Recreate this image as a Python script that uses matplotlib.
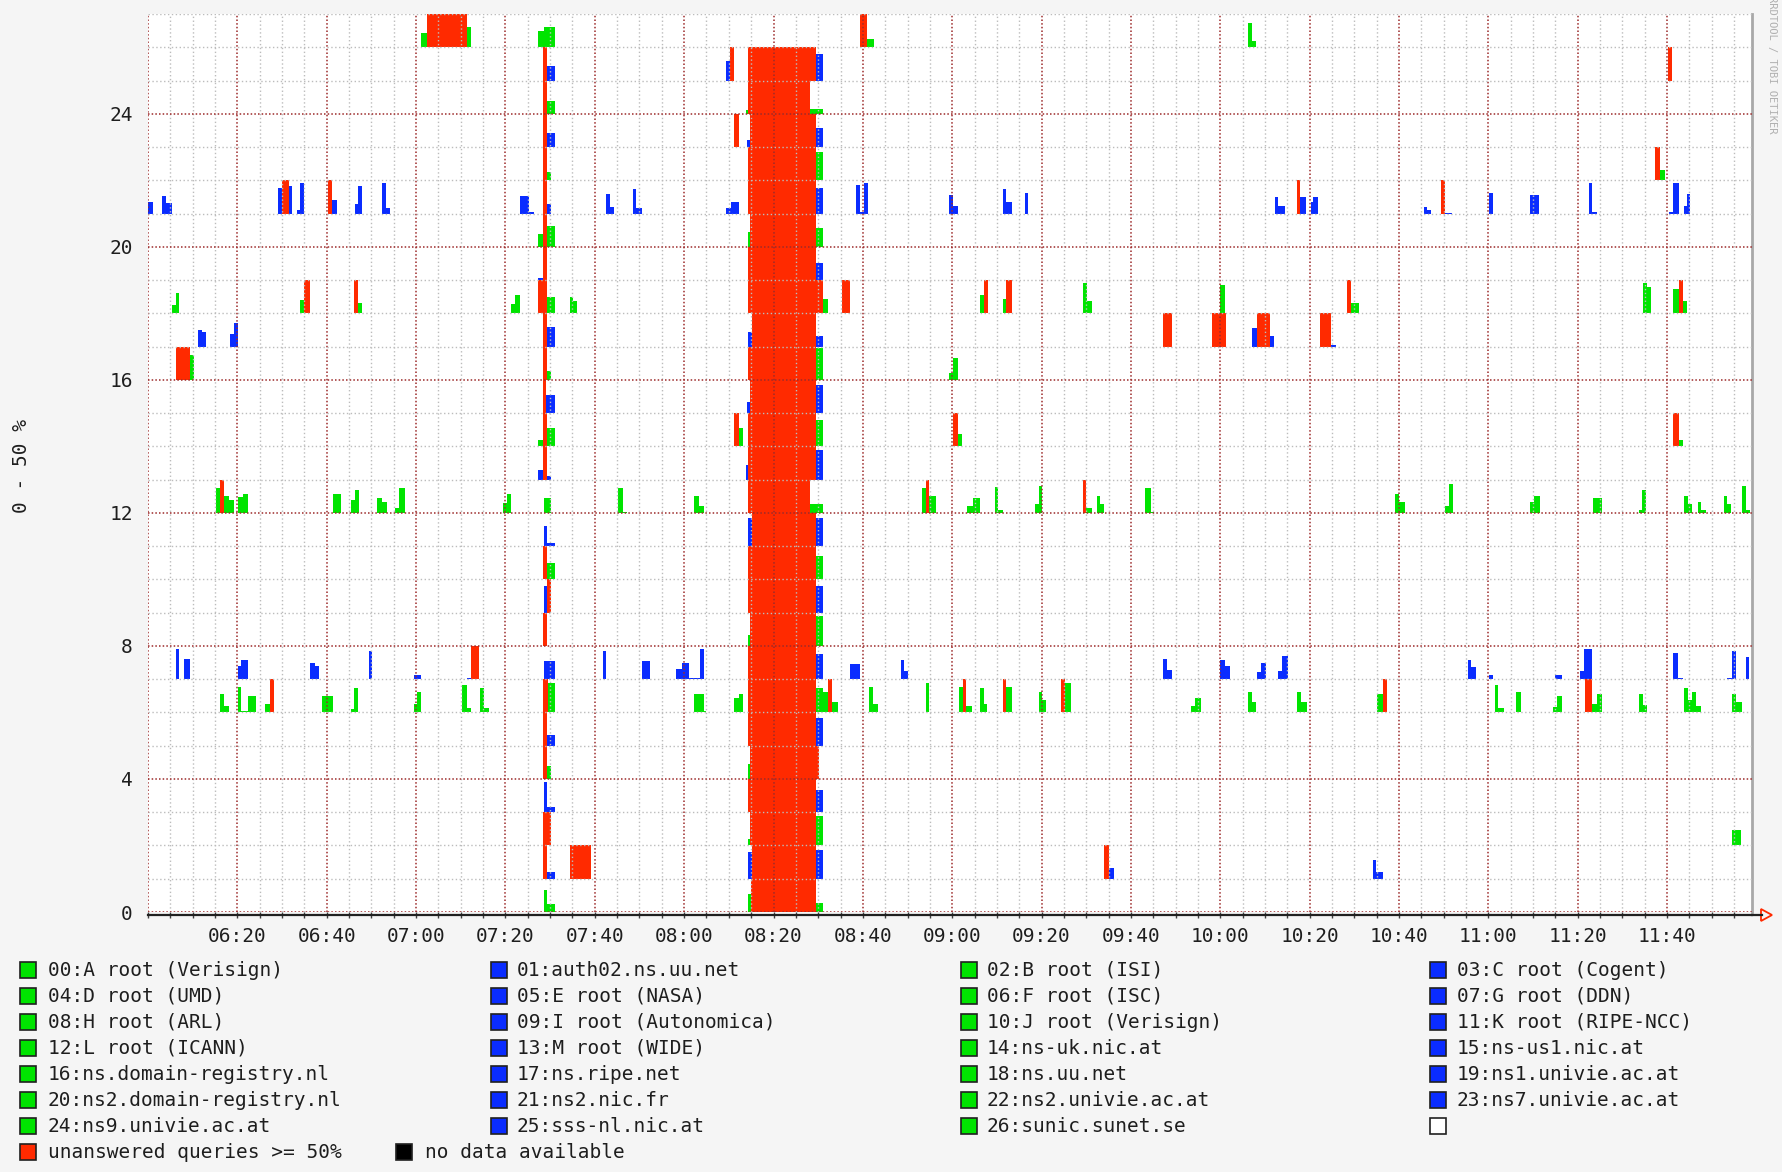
import matplotlib
matplotlib.use("Agg")
import matplotlib.pyplot as plt
from matplotlib.patches import Rectangle, Polygon
from matplotlib.lines import Line2D

# --- chart data ------------------------------------------------------------
t_start = "06:00"
t_end = "11:59"
time_labels = ["06:20", "06:40", "07:00", "07:20", "07:40", "08:00", "08:20",
               "08:40", "09:00", "09:20", "09:40", "10:00", "10:20", "10:40",
               "11:00", "11:20", "11:40"]
y_labels = [0, 4, 8, 12, 16, 20, 24]

servers = [
    "00:A root (Verisign)", "01:auth02.ns.uu.net", "02:B root (ISI)", "03:C root (Cogent)",
    "04:D root (UMD)", "05:E root (NASA)", "06:F root (ISC)", "07:G root (DDN)",
    "08:H root (ARL)", "09:I root (Autonomica)", "10:J root (Verisign)", "11:K root (RIPE-NCC)",
    "12:L root (ICANN)", "13:M root (WIDE)", "14:ns-uk.nic.at", "15:ns-us1.nic.at",
    "16:ns.domain-registry.nl", "17:ns.ripe.net", "18:ns.uu.net", "19:ns1.univie.ac.at",
    "20:ns2.domain-registry.nl", "21:ns2.nic.fr", "22:ns2.univie.ac.at", "23:ns7.univie.ac.at",
    "24:ns9.univie.ac.at", "25:sss-nl.nic.at", "26:sunic.sunet.se",
]

# per server: (start minute after 06:00, end minute, % unanswered); >= 50 drawn red
r00 = [(88.6, 89.4, 33), (89.4, 91.1, 12), (134.2, 135.0, 27), (135.0, 149.4, 50),
       (149.4, 151.1, 14)]
r01 = [(88.4, 89.4, 50), (89.4, 91.1, 10), (94.4, 99.2, 50), (134.2, 135.2, 40),
       (135.2, 149.4, 50), (149.4, 151.1, 43), (214.0, 215.0, 50), (215.0, 216.2, 16),
       (274.1, 274.8, 28), (274.8, 276.4, 10)]
r02 = [(88.4, 90.2, 50), (134.2, 134.8, 10), (134.8, 149.4, 50), (149.4, 151.1, 44),
       (354.5, 356.5, 23)]
r03 = [(88.6, 89.4, 45), (89.4, 91.1, 8), (134.2, 149.4, 50), (149.4, 151.1, 33)]
r04 = [(88.4, 89.4, 50), (89.4, 90.3, 19), (134.2, 134.8, 23), (134.8, 150.2, 50)]
r05 = [(88.4, 89.4, 50), (89.4, 91.1, 16), (134.4, 149.4, 50), (149.4, 151.1, 42)]
r06 = [(16.1, 17.0, 28), (17.0, 18.1, 9), (20.1, 20.8, 39), (20.8, 22.4, 2), (22.4, 24.1, 25),
       (26.1, 27.2, 12), (27.2, 28.2, 50), (39.0, 41.3, 25), (45.4, 46.2, 5), (46.2, 47.1, 37),
       (59.5, 60.2, 13), (60.2, 61.0, 31), (70.3, 71.4, 42), (71.4, 72.4, 6), (74.3, 75.3, 37),
       (75.3, 76.3, 6), (88.4, 89.6, 50), (89.6, 91.1, 45), (122.3, 124.4, 27), (124.4, 125.0, 2),
       (131.1, 132.3, 22), (132.3, 133.2, 28), (134.4, 149.4, 50), (149.4, 151.1, 37),
       (151.1, 152.3, 31), (152.3, 153.1, 50), (153.1, 154.4, 16), (161.3, 162.3, 39),
       (162.3, 163.4, 12), (174.2, 174.8, 45), (181.5, 182.5, 39), (182.5, 183.1, 50),
       (183.1, 184.4, 9), (186.3, 187.1, 37), (187.1, 187.8, 12), (191.3, 192.1, 50),
       (192.1, 193.4, 39), (199.4, 200.2, 31), (200.2, 200.9, 19), (204.4, 205.2, 50),
       (205.2, 206.5, 45), (233.4, 234.4, 10), (234.4, 235.7, 22), (246.2, 247.0, 31),
       (247.0, 248.0, 16), (257.1, 258.1, 31), (258.1, 259.4, 16), (275.1, 276.4, 28),
       (276.4, 277.4, 50), (301.4, 302.2, 42), (302.2, 303.5, 6), (306.2, 307.3, 31),
       (314.5, 315.3, 8), (315.3, 316.5, 25), (321.6, 323.3, 50), (323.3, 324.2, 12),
       (324.2, 325.4, 27), (333.6, 334.6, 27), (334.6, 335.4, 11), (343.7, 344.7, 37),
       (344.7, 345.5, 19), (345.5, 346.5, 31), (346.5, 347.6, 9), (354.5, 355.5, 27),
       (355.5, 356.7, 16)]
r07 = [(6.2, 6.9, 46), (8.0, 9.3, 31), (20.1, 20.8, 20), (20.8, 22.4, 29), (36.3, 37.3, 25),
       (37.3, 38.2, 20), (49.4, 50.2, 43), (59.5, 61.2, 6), (71.4, 72.4, 2), (72.4, 74.1, 50),
       (88.6, 91.1, 28), (101.8, 102.5, 43), (110.6, 112.4, 28), (118.1, 119.5, 16),
       (119.5, 121.1, 25), (121.1, 123.6, 2), (123.6, 124.4, 46), (134.4, 149.4, 50),
       (149.4, 151.1, 38), (157.1, 159.4, 23), (168.5, 169.2, 29), (169.2, 170.2, 13),
       (227.1, 228.0, 31), (228.0, 229.2, 14), (239.9, 241.0, 29), (241.0, 242.2, 20),
       (248.2, 249.2, 11), (249.2, 250.2, 25), (253.0, 253.8, 13), (253.8, 255.1, 35),
       (295.4, 296.2, 29), (296.2, 297.3, 19), (300.1, 301.0, 6), (315.0, 316.5, 6),
       (320.5, 321.5, 13), (321.5, 323.3, 46), (341.4, 342.4, 40), (342.4, 343.5, 2),
       (353.4, 354.5, 2), (354.5, 355.5, 43), (357.6, 358.4, 34)]
r08 = [(88.4, 89.4, 50), (134.2, 134.8, 17), (134.8, 149.4, 50), (149.4, 151.1, 45)]
r09 = [(88.6, 89.4, 40), (89.4, 90.2, 50), (134.4, 149.4, 50), (149.4, 151.1, 40)]
r10 = [(88.4, 89.4, 50), (89.4, 91.1, 25), (134.4, 149.4, 50), (149.4, 151.1, 35)]
r11 = [(88.6, 89.4, 30), (89.4, 91.1, 5), (134.2, 135.2, 42), (135.2, 149.4, 50),
       (149.4, 151.1, 42)]
r12 = [(15.3, 16.2, 38), (16.2, 17.0, 50), (17.0, 18.1, 26), (18.1, 19.2, 19), (20.1, 21.2, 24),
       (21.2, 22.4, 29), (41.3, 43.1, 29), (45.4, 46.3, 19), (46.3, 47.3, 34), (51.2, 52.3, 23),
       (52.3, 53.4, 16), (55.2, 56.2, 8), (56.2, 57.5, 38), (79.5, 80.3, 15), (80.3, 81.2, 29),
       (88.6, 90.2, 23), (105.3, 106.4, 38), (106.4, 107.3, 2), (122.3, 123.4, 26),
       (123.4, 124.4, 10), (134.4, 148.2, 50), (148.2, 151.1, 14), (173.2, 174.2, 38),
       (174.2, 174.9, 50), (174.9, 176.3, 26), (183.2, 184.6, 10), (184.6, 186.2, 23),
       (189.5, 190.3, 39), (190.3, 191.3, 4), (198.5, 199.4, 13), (199.4, 200.0, 40),
       (209.2, 210.0, 50), (210.0, 211.3, 8), (212.3, 213.1, 26), (213.1, 214.0, 14),
       (223.1, 224.4, 38), (224.4, 225.2, 2), (279.2, 280.1, 29), (280.1, 281.4, 17),
       (290.3, 291.1, 11), (291.1, 292.1, 44), (309.3, 310.3, 16), (310.3, 311.6, 25),
       (323.4, 325.4, 23), (333.6, 334.4, 4), (334.4, 335.2, 34), (343.7, 344.7, 25),
       (344.7, 345.5, 13), (346.9, 347.6, 16), (347.6, 348.6, 4), (352.7, 353.4, 25),
       (353.4, 354.4, 13), (356.7, 357.6, 40), (357.6, 358.6, 5)]
r13 = [(87.3, 88.4, 14), (88.4, 89.2, 50), (89.2, 90.2, 6), (133.8, 134.4, 22),
       (134.4, 149.4, 50), (149.4, 151.1, 45)]
r14 = [(87.3, 88.4, 9), (88.4, 89.2, 50), (89.2, 91.1, 27), (131.1, 132.3, 50),
       (132.3, 133.2, 27), (134.4, 149.4, 50), (149.4, 151.1, 40), (180.2, 181.2, 50),
       (181.2, 182.2, 18), (341.4, 342.6, 50), (342.6, 343.5, 10)]
r15 = [(88.4, 89.0, 50), (89.0, 91.1, 27), (134.0, 134.8, 17), (134.8, 149.4, 50),
       (149.4, 151.1, 43)]
r16 = [(6.3, 9.3, 50), (9.3, 10.2, 37), (88.4, 89.2, 50), (89.2, 90.2, 13), (134.4, 149.4, 50),
       (149.4, 151.1, 48), (179.2, 180.2, 10), (180.2, 181.2, 33)]
r17 = [(11.2, 12.0, 25), (12.0, 13.0, 22), (18.4, 19.2, 19), (19.2, 20.1, 35), (88.4, 89.2, 50),
       (89.2, 91.1, 30), (134.2, 135.2, 22), (135.2, 149.4, 50), (149.4, 151.1, 16),
       (227.1, 229.2, 50), (238.2, 241.3, 50), (247.2, 248.2, 28), (248.2, 251.1, 50),
       (251.1, 252.1, 16), (262.2, 264.8, 50), (264.8, 266.0, 2)]
r18 = [(5.4, 6.2, 12), (6.2, 6.9, 31), (34.1, 34.9, 20), (34.9, 36.3, 50), (46.2, 47.1, 50),
       (47.1, 48.0, 16), (81.2, 82.2, 14), (82.2, 83.2, 28), (87.3, 89.4, 50), (89.4, 91.1, 25),
       (94.4, 95.1, 25), (95.1, 96.1, 19), (134.4, 151.1, 50), (151.1, 152.1, 22),
       (155.4, 157.1, 50), (186.2, 187.1, 28), (187.1, 188.0, 50), (191.3, 192.1, 22),
       (192.1, 193.4, 50), (209.2, 210.2, 46), (210.2, 211.3, 19), (239.9, 241.1, 43),
       (268.4, 269.3, 50), (269.3, 271.0, 16), (334.6, 335.4, 45), (335.4, 336.4, 40),
       (341.4, 342.6, 37), (342.6, 343.5, 50), (343.5, 344.5, 19)]
r19 = [(87.3, 88.4, 3), (88.4, 89.2, 50), (134.4, 149.4, 50), (149.4, 151.1, 25)]
r20 = [(87.3, 88.4, 19), (88.4, 89.2, 50), (89.2, 91.1, 32), (134.2, 134.8, 22),
       (134.8, 149.4, 50), (149.4, 151.1, 28)]
r21 = [(0.0, 1.2, 18), (3.1, 4.0, 27), (4.0, 5.3, 16), (29.2, 30.1, 39), (30.1, 31.5, 50),
       (31.5, 32.3, 42), (33.4, 34.1, 6), (34.1, 34.9, 46), (40.2, 41.2, 50), (41.2, 42.2, 21),
       (46.3, 47.1, 15), (47.1, 47.9, 42), (52.3, 53.3, 46), (53.3, 54.2, 9), (83.2, 85.3, 27),
       (85.3, 86.5, 2), (88.4, 89.2, 50), (89.2, 90.2, 15), (102.5, 103.3, 30),
       (103.3, 104.2, 10), (108.5, 109.3, 37), (109.3, 110.6, 8), (129.4, 130.4, 8),
       (130.4, 132.3, 18), (134.2, 149.4, 50), (149.4, 151.1, 39), (158.5, 159.4, 43),
       (159.4, 160.2, 3), (160.2, 161.1, 46), (179.2, 180.2, 28), (180.2, 181.2, 12),
       (191.3, 192.1, 37), (192.1, 193.4, 18), (196.2, 197.0, 31), (252.3, 253.0, 25),
       (253.0, 254.4, 12), (257.1, 257.9, 50), (257.9, 259.2, 25), (260.2, 260.8, 18),
       (260.8, 261.9, 25), (285.5, 286.3, 10), (286.3, 287.2, 6), (289.5, 290.3, 50),
       (290.3, 291.9, 1), (300.2, 301.1, 31), (309.3, 311.4, 28), (322.5, 323.3, 46),
       (323.3, 324.2, 2), (340.4, 341.4, 2), (341.4, 342.6, 46), (343.7, 344.5, 12),
       (344.5, 345.2, 30)]
r22 = [(88.4, 89.2, 50), (89.2, 90.2, 12), (134.4, 149.4, 50), (149.4, 151.1, 42),
       (337.2, 338.5, 50), (338.5, 339.5, 16)]
r23 = [(88.4, 89.2, 50), (89.2, 91.1, 21), (131.1, 132.3, 50), (134.0, 134.8, 10),
       (134.8, 149.4, 50), (149.4, 151.1, 28)]
r24 = [(88.4, 89.2, 50), (89.2, 91.1, 19), (133.8, 134.4, 5), (134.4, 148.2, 50),
       (148.2, 151.1, 7)]
r25 = [(88.4, 89.2, 50), (89.2, 91.1, 22), (129.4, 130.2, 29), (130.2, 131.1, 50),
       (134.4, 149.4, 50), (149.4, 151.1, 40), (340.2, 341.2, 50)]
r26 = [(61.2, 62.4, 21), (62.4, 71.4, 50), (71.4, 72.4, 31), (87.3, 88.6, 24), (88.6, 91.1, 31),
       (159.4, 160.9, 50), (160.9, 162.5, 12), (246.2, 247.2, 36), (247.2, 248.0, 9)]

rows = [r00, r01, r02, r03, r04, r05, r06, r07, r08, r09, r10, r11, r12, r13,
        r14, r15, r16, r17, r18, r19, r20, r21, r22, r23, r24, r25, r26]

# --- style -----------------------------------------------------------------
W, H = 1783, 1172
GREEN = "#00e400"
BLUE = "#0a2cff"
RED = "#ff2a00"
MAJOR = "#9c2a2a"
MINOR = "#bcbcbc"
MONO = "DejaVu Sans Mono"
TXT = "#1e1e1e"


def minutes(hhmm):
    h, m = hhmm.split(":")
    h0, m0 = t_start.split(":")
    return int(h) * 60 + int(m) - (int(h0) * 60 + int(m0))


def fx(px):
    return px / W


def fy(py):
    return 1 - py / H


fig = plt.figure(figsize=(W / 100, H / 100), dpi=100, facecolor="#f5f5f5")
ax = fig.add_axes([fx(148), fy(912), (1752 - 148) / W, (912 - 14) / H])
ax.set_facecolor("white")
t_max = minutes(t_end)
ax.set_xlim(0, t_max)
ax.set_ylim(0, len(rows))

# bars, one band of height 1 per server (0 - 50 %)
for r, events in enumerate(rows):
    col = GREEN if r % 2 == 0 else BLUE
    for s, e, pct in events:
        if pct >= 50:
            ax.bar(s, 1.0, width=e - s, bottom=r, align="edge", color=RED, lw=0, zorder=2)
        else:
            ax.bar(s, pct / 50.0, width=e - s, bottom=r, align="edge", color=col, lw=0, zorder=2)

# grid drawn over the data, as rrdtool does
for t in range(0, t_max + 1, 5):
    if t % 20 == 0:
        ax.axvline(t, color=MAJOR, lw=1.1, ls=(0, (1, 1.4)), zorder=3)
    else:
        ax.axvline(t, color=MINOR, lw=1.0, ls=(0, (1, 1.8)), zorder=3)
for v in range(0, len(rows) + 1):
    if v % 4 == 0:
        ax.axhline(v, color=MAJOR, lw=1.1, ls=(0, (1, 1.4)), zorder=3)
    else:
        ax.axhline(v, color=MINOR, lw=1.0, ls=(0, (1, 1.8)), zorder=3)

for side in ("top", "left"):
    ax.spines[side].set_visible(False)
ax.spines["right"].set_color("#a8a8a8")
ax.spines["right"].set_linewidth(2)
ax.spines["bottom"].set_color("#202020")
ax.spines["bottom"].set_linewidth(1.6)
ax.spines["bottom"].set_position(("outward", 2))

ax.set_xticks([minutes(t) for t in time_labels])
ax.set_xticklabels(time_labels, fontfamily=MONO, fontsize=14, color=TXT)
ax.set_xticks(range(0, t_max + 1, 5), minor=True)
ax.tick_params(axis="x", which="both", direction="inout", length=5, width=1,
               color="#404040", pad=6)
ax.set_yticks(y_labels)
ax.set_yticklabels([str(v) for v in y_labels], fontfamily=MONO, fontsize=14, color=TXT)
ax.tick_params(axis="y", length=0, pad=11)

# axis arrow at the end of the time axis
fig.add_artist(Line2D([fx(1752), fx(1762)], [fy(915), fy(915)], color="#202020", lw=1.6))
fig.add_artist(Polygon([(fx(1761), fy(909)), (fx(1772), fy(915)), (fx(1761), fy(921))],
                       closed=True, fill=False, edgecolor=RED, lw=1.3))

fig.text(fx(22), fy(466), "0 - 50 %", rotation=90, ha="center", va="center",
         fontfamily=MONO, fontsize=14, color=TXT)
fig.text(fx(1772), fy(134), "RRDTOOL / TOBI OETIKER", rotation=270, ha="center", va="bottom",
         fontfamily=MONO, fontsize=7.5, color="#b0b0b0")

# legend
box_x = [20, 491, 961, 1430]
text_x = [48, 517, 987, 1457]
row_y0, row_dy, box = 970, 26, 16
entries = servers + [""]
for i, name in enumerate(entries):
    c, rr = i % 4, i // 4
    yc = row_y0 + rr * row_dy
    face = "white" if name == "" else (GREEN if i % 2 == 0 else BLUE)
    fig.add_artist(Rectangle((fx(box_x[c]), fy(yc + box / 2)), box / W, box / H,
                             facecolor=face, edgecolor="#202020", lw=1.2))
    if name:
        fig.text(fx(text_x[c]), fy(yc), name, ha="left", va="center",
                 fontfamily=MONO, fontsize=14, color=TXT)
yc = row_y0 + 7 * row_dy
fig.add_artist(Rectangle((fx(20), fy(yc + box / 2)), box / W, box / H,
                         facecolor=RED, edgecolor="#202020", lw=1.2))
fig.text(fx(48), fy(yc), "unanswered queries >= 50%", ha="left", va="center",
         fontfamily=MONO, fontsize=14, color=TXT)
fig.add_artist(Rectangle((fx(396), fy(yc + box / 2)), box / W, box / H,
                         facecolor="black", edgecolor="#202020", lw=1.2))
fig.text(fx(425), fy(yc), "no data available", ha="left", va="center",
         fontfamily=MONO, fontsize=14, color=TXT)

fig.savefig("out.png", dpi=100, facecolor=fig.get_facecolor())
